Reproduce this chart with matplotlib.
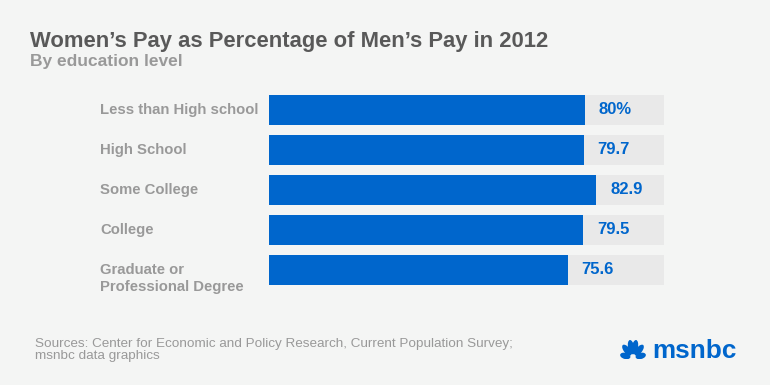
import math
import matplotlib
matplotlib.use("Agg")
import matplotlib.pyplot as plt
from matplotlib.patches import Ellipse
from matplotlib.transforms import blended_transform_factory

# Data
categories = ["Less than High school", "High School", "Some College", "College",
              "Graduate or\nProfessional Degree"]
values = [80, 79.7, 82.9, 79.5, 75.6]
value_labels = ["80%", "79.7", "82.9", "79.5", "75.6"]
track_max = 100

title = "Women\u2019s Pay as Percentage of Men\u2019s Pay in 2012"
subtitle = "By education level"
source = ("Sources: Center for Economic and Policy Research, Current Population Survey;\n"
          "msnbc data graphics")

# Colors
bg = "#f4f5f4"
track_color = "#e9e9e9"
blue = "#0066cc"
label_gray = "#999999"
title_gray = "#595959"

plt.rcParams['font.family'] = ['Liberation Sans', 'DejaVu Sans']

W, H = 770, 385


def px(x0, y0, x1, y1):
    # pixel box (top-left origin) -> figure fraction rect
    return [x0 / W, 1 - y1 / H, (x1 - x0) / W, (y1 - y0) / H]


fig = plt.figure(figsize=(W / 100, H / 100), dpi=100, facecolor=bg)

# Bars
ax = fig.add_axes(px(269, 95, 664, 285))
ax.set_facecolor('none')
ypos = list(range(len(categories)))
ax.barh(ypos, [track_max] * len(categories), height=0.75, color=track_color)
ax.barh(ypos, values, height=0.75, color=blue)
ax.set_xlim(0, track_max)
ax.set_ylim(len(categories) - 0.625, -0.375)
ax.axis('off')

# Category labels and value labels
label_tr = blended_transform_factory(fig.transFigure, ax.transData)
for i, (cat, v, lab) in enumerate(zip(categories, values, value_labels)):
    for j, line in enumerate(cat.split("\n")):
        ax.text(100 / W, i + j * 0.43, line, transform=label_tr, ha='left', va='center',
                fontsize=10.7, fontweight='bold', color=label_gray)
    ax.text(v + 3.5, i, lab, ha='left', va='center', fontsize=12,
            fontweight='bold', color=blue)

# Title and subtitle
fig.text(30 / W, 1 - 47 / H, title, ha='left', va='baseline', fontsize=15.8,
         fontweight='bold', color=title_gray)
fig.text(30 / W, 1 - 66 / H, subtitle, ha='left', va='baseline', fontsize=12.5,
         fontweight='bold', color=label_gray)

# Source note
fig.text(35 / W, 1 - 350 / H, source, ha='left', va='center', fontsize=9.7,
         color=label_gray, linespacing=1.05)

# msnbc logo: peacock + wordmark
fig.text(652 / W, 1 - 358 / H, "msnbc", ha='left', va='baseline', fontsize=18.8,
         fontweight='bold', color=blue)

lax = fig.add_axes(px(618, 340, 648, 359))
lax.set_xlim(-1.5, 1.5)
lax.set_ylim(0, 1.9)
lax.set_aspect('equal')
lax.axis('off')
feathers = [(165, 0.8, 1.05), (128, 1.0, 1.3), (100, 1.1, 1.45),
            (80, 1.1, 1.45), (52, 1.0, 1.3), (15, 0.8, 1.05)]
for ang, r, length in feathers:
    cx = r * math.cos(math.radians(ang))
    cy = 0.1 + r * math.sin(math.radians(ang))
    lax.add_patch(Ellipse((cx, cy), length, 0.62, angle=ang, color=blue, lw=0))

fig.savefig("out.png", dpi=100, facecolor=bg)
